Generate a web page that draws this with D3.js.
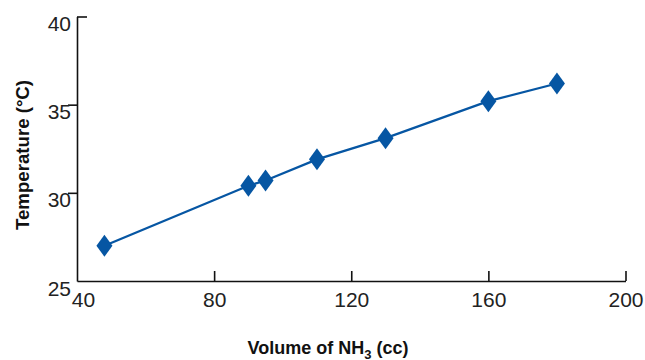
<!DOCTYPE html>
<html>
<head>
<meta charset="utf-8">
<script src="https://cdn.jsdelivr.net/npm/d3@7"></script>
<style>
  body { margin: 0; background: #fff; }
  svg { display: block; }
  .tick text { font-family: "Liberation Sans", Arial, sans-serif; font-size: 21px; fill: #222; }
  .title { font-family: "Liberation Sans", Arial, sans-serif; font-size: 18px; font-weight: bold; fill: #111; }
</style>
</head>
<body>
<svg id="chart" width="645" height="360"></svg>
<script>
// volume of NH3 (cc) vs temperature (°C)
const volume = [48, 90, 95, 110, 130, 160, 180];
const temperature = [27.0, 30.4, 30.7, 31.9, 33.1, 35.2, 36.2];
const xTicks = [40, 80, 120, 160, 200];
const yTicks = [25, 30, 35, 40];

const svg = d3.select("#chart");
const width = Number(svg.attr("width"));
const height = Number(svg.attr("height"));
const margin = {top: 16.5, right: 20, bottom: 79, left: 77};
const innerWidth = 625.5 - margin.left;
const innerHeight = height - margin.top - margin.bottom;

const blue = "#0656a3";

const x = d3.scaleLinear().domain([40, 200]).range([0, innerWidth]);
const y = d3.scaleLinear().domain([25, 40]).range([innerHeight, 0]);

const g = svg.append("g")
  .attr("transform", `translate(${margin.left},${margin.top})`);

// x axis, ticks point up into the plot
const xAxis = g.append("g")
  .attr("transform", `translate(0,${innerHeight})`)
  .call(d3.axisBottom(x).tickValues(xTicks).tickSize(-10).tickSizeOuter(0));
xAxis.select(".domain").attr("stroke", "#111").attr("stroke-width", 1.6);
xAxis.selectAll(".tick line").attr("stroke", "#111").attr("stroke-width", 1.6);
xAxis.selectAll(".tick text")
  .attr("y", 26).attr("dy", null)
  .attr("dx", d => d == 40 ? 6 : 0);
xAxis.selectAll(".tick").filter(d => d == 40).select("line").remove();

// y axis
const yAxis = g.append("g")
  .call(d3.axisLeft(y).tickValues(yTicks).tickSize(9).tickSizeOuter(0));
yAxis.select(".domain").attr("stroke", "#111").attr("stroke-width", 1.6);
yAxis.selectAll(".tick line").attr("stroke", "#111").attr("stroke-width", 1.6);
yAxis.selectAll(".tick").filter(d => d == 40).select("line").attr("x2", 10);
yAxis.selectAll(".tick").filter(d => d == 25).select("line").remove();
yAxis.selectAll(".tick text")
  .attr("x", -6).attr("dy", "14px");

// line
const pts = volume.map((v, i) => ({v: v, t: temperature[i]}));
g.append("path")
  .datum(pts)
  .attr("fill", "none")
  .attr("stroke", blue)
  .attr("stroke-width", 2.3)
  .attr("d", d3.line().x(d => x(d.v)).y(d => y(d.t)));

// diamond markers
g.append("g")
  .selectAll("path")
  .data(pts)
  .enter()
  .append("path")
    .attr("transform", d => `translate(${x(d.v)},${y(d.t)})`)
    .attr("d", "M0,-11L8,0L0,11L-8,0Z")
    .attr("fill", blue);

// titles
svg.append("text")
  .attr("class", "title")
  .attr("transform", "translate(29,155) rotate(-90)")
  .attr("text-anchor", "middle")
  .attr("textLength", 150)
  .attr("lengthAdjust", "spacingAndGlyphs")
  .text("Temperature (°C)");

const xt = svg.append("text")
  .attr("class", "title")
  .attr("x", 328)
  .attr("y", 354)
  .attr("text-anchor", "middle");
xt.append("tspan").text("Volume of NH");
xt.append("tspan").attr("font-size", "13px").attr("dy", 5).text("3");
xt.append("tspan").attr("dy", -5).text(" (cc)");
</script>
</body>
</html>
